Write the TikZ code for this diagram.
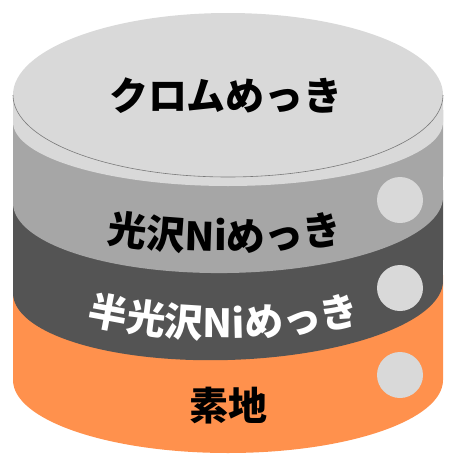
\documentclass[tikz,border=0pt]{standalone}
\usepackage{fontspec}
\newfontfamily\cjk{Noto Sans CJK JP}
\usetikzlibrary{decorations.text}
\definecolor{lgray}{HTML}{D9D9D9}
\definecolor{mgray}{HTML}{A6A6A6}
\definecolor{dgray}{HTML}{545454}
\definecolor{orng}{HTML}{FF914D}
\definecolor{outl}{HTML}{7A7A7A}
\newcommand\jpb{\cjk\bfseries\fontsize{39}{40}\selectfont}
\begin{document}
\begin{tikzpicture}[x=1pt,y=1pt,
  dot/.style={circle,fill=lgray,draw=none,minimum size=46pt,inner sep=0pt},
  label/.style={font=\jpb,text=black,inner sep=0pt}]
\useasboundingbox (0,0) rectangle (455,-472);
% substrate (orange)
\fill[orng] (13,-275) -- (13,-380) arc[start angle=180,end angle=360,x radius=215,y radius=73] -- (443,-275) -- cycle;
% semi-bright Ni (dark gray)
\fill[dgray] (13,-190) -- plot[domain=180:360,samples=90,variable=\t] ({228+215*cos(\t)},{-287+73*sin(\t)+6*cos(\t)}) -- (443,-190) -- cycle;
% bright Ni (gray)
\fill[mgray] (13,-110) -- plot[domain=180:360,samples=90,variable=\t] ({228+215*cos(\t)},{-200+73*sin(\t)+3*cos(\t)}) -- (443,-110) -- cycle;
% chrome disk side
\fill[lgray] (13,-95) -- (13,-122) arc[start angle=180,end angle=360,x radius=215,y radius=64] -- (443,-122) -- (443,-95) -- cycle;
% chrome top face
\fill[lgray] (228,-95) ellipse[x radius=215,y radius=82];
\draw[outl,line width=0.6pt] (13,-95) arc[start angle=180,end angle=360,x radius=215,y radius=82];
% circles
\node[dot] (c1) at (400,-200) {};
\node[dot] (c2) at (400,-288) {};
\node[dot] (c3) at (400,-375) {};
% labels
\node[label] (chrome) at (226,-96) {クロムめっき};
\path[decorate,decoration={text along path,text={|\jpb|光沢Niめっき},text align=center,text color=black}]
  (70,-236) .. controls (173.3,-256) and (276.7,-256) .. (380,-236);
\path[decorate,decoration={text along path,text={|\jpb|半光沢Niめっき},text align=center,text color=white}]
  (60,-316.5) .. controls (169.3,-345.2) and (278.7,-345.2) .. (388,-316.5);
\node[label] (base) at (228,-406) {素地};
\end{tikzpicture}
\end{document}
